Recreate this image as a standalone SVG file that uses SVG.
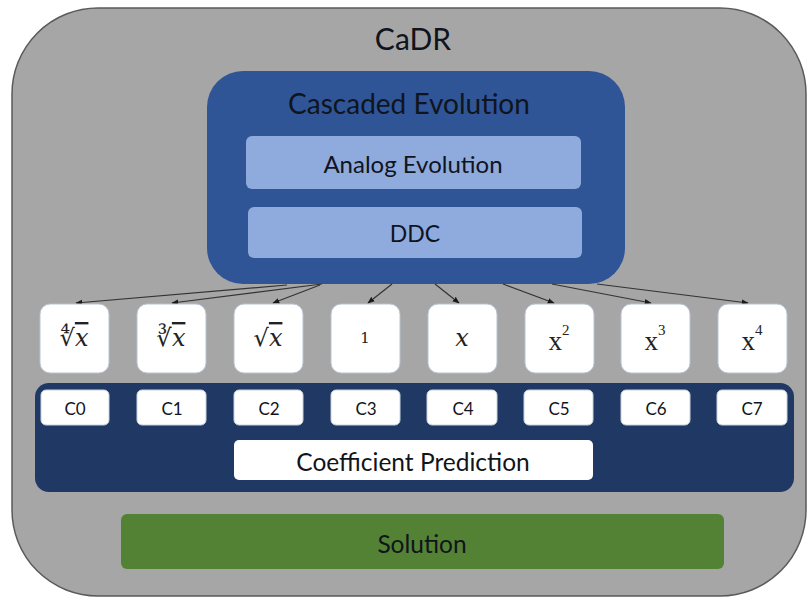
<svg xmlns="http://www.w3.org/2000/svg" width="808" height="600" viewBox="0 0 808 600">
<defs>
<marker id="ah" viewBox="0 0 10 10" refX="9" refY="5" markerWidth="7" markerHeight="7" orient="auto" markerUnits="userSpaceOnUse">
<path d="M0,1 L10,5 L0,9 z" fill="#1a1a1a"/>
</marker>
<style>
.lbl{font-family:Lato,"Liberation Sans",sans-serif;text-anchor:middle;dominant-baseline:central;fill:#10141c}
.fn{fill:#ffffff;stroke:#b9c3d0;stroke-width:1}
.cb{fill:#ffffff;stroke:#c9d2de;stroke-width:1}
.math{font-family:"DejaVu Serif","Liberation Serif",serif;text-anchor:middle;dominant-baseline:central;fill:#222222;font-size:24px}
.pow{font-family:"Liberation Serif",serif;font-size:27px}
.conn line{stroke:#333333;stroke-width:1.2;marker-end:url(#ah)}
</style>
</defs>
<rect width="808" height="600" fill="#ffffff"/>
<g id="cadr">
<rect x="12" y="8" width="794" height="588" rx="86" ry="86" fill="#a6a6a6" stroke="#5a5a5a" stroke-width="1.5"/>
<text class="lbl" x="413" y="38" font-size="30">CaDR</text>
</g>
<g id="cascaded-evolution">
<rect x="207" y="71" width="418" height="213" rx="36" ry="36" fill="#2f5597"/>
<text class="lbl" x="409" y="103" font-size="28">Cascaded Evolution</text>
</g>
<g id="analog-evolution">
<rect x="246" y="136" width="335" height="53" rx="6" ry="6" fill="#8faadc"/>
<text class="lbl" x="413" y="163" font-size="24">Analog Evolution</text>
</g>
<g id="ddc">
<rect x="248" y="207" width="334" height="51" rx="6" ry="6" fill="#8faadc"/>
<text class="lbl" x="415" y="233" font-size="23">DDC</text>
</g>
<g class="conn" id="connectors">
<line x1="287" y1="285" x2="76" y2="303"/>
<line x1="322" y1="284" x2="172" y2="303"/>
<line x1="320" y1="285" x2="273" y2="303"/>
<line x1="392" y1="284" x2="368" y2="303"/>
<line x1="435" y1="284" x2="459" y2="303"/>
<line x1="503" y1="284" x2="554" y2="303"/>
<line x1="552" y1="284" x2="651" y2="303"/>
<line x1="597" y1="284" x2="748" y2="303"/>
</g>
<g id="fn-4rt">
<rect class="fn" x="40" y="304" width="69" height="69" rx="10"/>
<text class="math" x="74" y="338">∜<tspan font-style="italic" text-decoration="overline">x</tspan></text>
</g>
<g id="fn-3rt">
<rect class="fn" x="137" y="304" width="69" height="69" rx="10"/>
<text class="math" x="171" y="338">∛<tspan font-style="italic" text-decoration="overline">x</tspan></text>
</g>
<g id="fn-sqrt">
<rect class="fn" x="234" y="304" width="69" height="69" rx="10"/>
<text class="math" x="268" y="338">√<tspan font-style="italic" text-decoration="overline">x</tspan></text>
</g>
<g id="fn-1">
<rect class="fn" x="331" y="304" width="69" height="69" rx="10"/>
<text class="math" x="365" y="338" style="font-size:15px">1</text>
</g>
<g id="fn-x">
<rect class="fn" x="428" y="304" width="69" height="69" rx="10"/>
<text class="math" x="462" y="338" font-style="italic">x</text>
</g>
<g id="fn-x2">
<rect class="fn" x="525" y="304" width="69" height="69" rx="10"/>
<text class="math pow" x="559" y="341">x<tspan font-size="15" dy="-11">2</tspan></text>
</g>
<g id="fn-x3">
<rect class="fn" x="621" y="304" width="69" height="69" rx="10"/>
<text class="math pow" x="655" y="341">x<tspan font-size="15" dy="-11">3</tspan></text>
</g>
<g id="fn-x4">
<rect class="fn" x="718" y="304" width="69" height="69" rx="10"/>
<text class="math pow" x="752" y="341">x<tspan font-size="15" dy="-11">4</tspan></text>
</g>
<g id="coefficient-prediction">
<rect x="35" y="383" width="759" height="109" rx="14" ry="14" fill="#1f3864"/>
<rect x="234" y="440" width="359" height="40" rx="5" fill="#ffffff"/>
<text class="lbl" x="413" y="461" font-size="24.5">Coefficient Prediction</text>
</g>
<g id="c0"><rect class="cb" x="41" y="390" width="68" height="35" rx="5"/><text class="lbl" x="75" y="408" font-size="17">C0</text></g>
<g id="c1"><rect class="cb" x="137" y="390" width="69" height="35" rx="5"/><text class="lbl" x="172" y="408" font-size="17">C1</text></g>
<g id="c2"><rect class="cb" x="234" y="390" width="69" height="35" rx="5"/><text class="lbl" x="269" y="408" font-size="17">C2</text></g>
<g id="c3"><rect class="cb" x="331" y="390" width="69" height="35" rx="5"/><text class="lbl" x="366" y="408" font-size="17">C3</text></g>
<g id="c4"><rect class="cb" x="427" y="390" width="70" height="35" rx="5"/><text class="lbl" x="463" y="408" font-size="17">C4</text></g>
<g id="c5"><rect class="cb" x="524" y="390" width="69" height="35" rx="5"/><text class="lbl" x="559" y="408" font-size="17">C5</text></g>
<g id="c6"><rect class="cb" x="621" y="390" width="69" height="35" rx="5"/><text class="lbl" x="656" y="408" font-size="17">C6</text></g>
<g id="c7"><rect class="cb" x="717" y="390" width="70" height="35" rx="5"/><text class="lbl" x="752" y="408" font-size="17">C7</text></g>
<g id="solution">
<rect x="121" y="514" width="603" height="55" rx="6" ry="6" fill="#548235"/>
<text class="lbl" x="422" y="543" font-size="24.5">Solution</text>
</g>
</svg>
